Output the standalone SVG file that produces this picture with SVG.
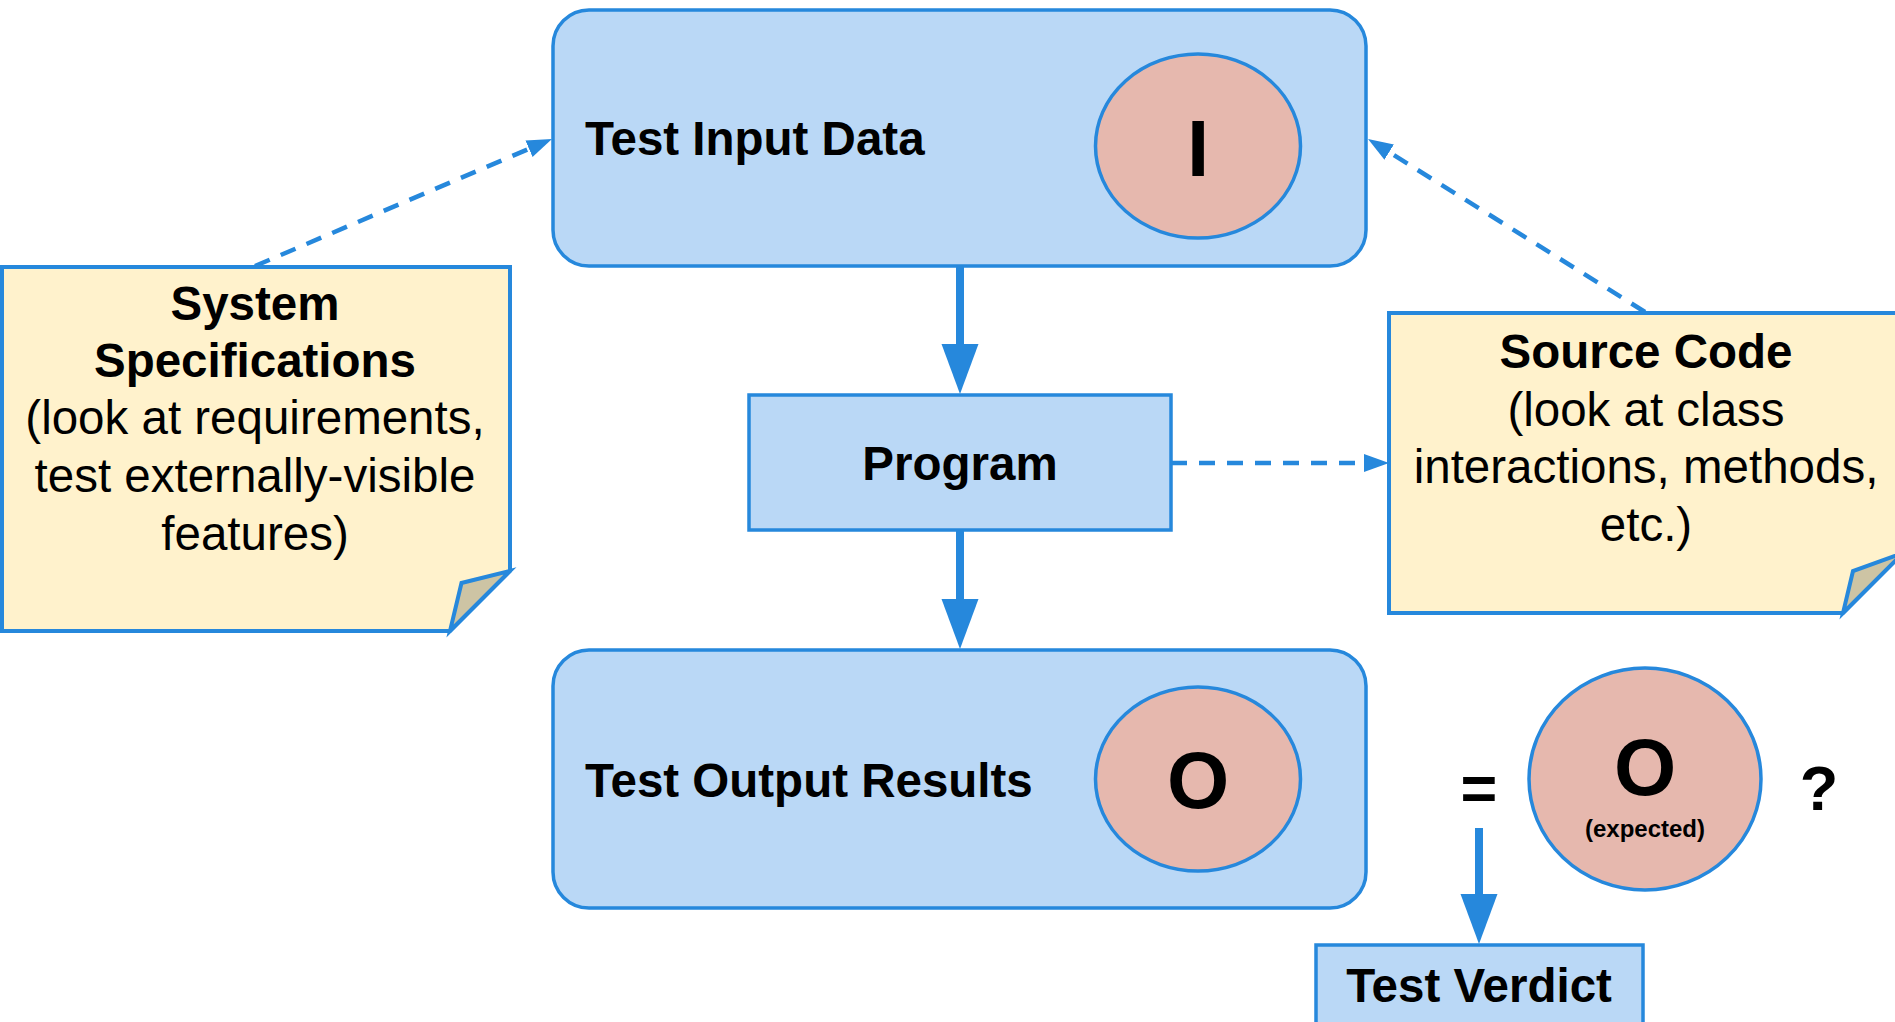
<svg xmlns="http://www.w3.org/2000/svg" width="1895" height="1022" viewBox="0 0 1895 1022">
  <style>
    .box { fill: #bad8f6; stroke: #2688dc; stroke-width: 3.5; }
    .note { fill: #fff2cc; stroke: #2688dc; stroke-width: 4; stroke-linejoin: miter; }
    .fold { fill: #cdc4a4; stroke: #2688dc; stroke-width: 4; stroke-linejoin: miter; }
    .data { fill: #e6b8ae; stroke: #2688dc; stroke-width: 3.5; }
    text { font-family: "Liberation Sans", Arial, sans-serif; fill: #000; }
    .b { font-weight: bold; }
    .t { font-size: 47.5px; }
    .c { text-anchor: middle; }
    .big { font-size: 80px; font-weight: bold; text-anchor: middle; }
    .solid { stroke: #2688dc; stroke-width: 8; fill: none; }
    .dash { stroke: #2688dc; stroke-width: 4.5; fill: none; stroke-dasharray: 16 12; }
  </style>
  <defs>
    <marker id="headSolid" markerUnits="userSpaceOnUse" markerWidth="50" markerHeight="38" refX="0" refY="18.5" orient="auto">
      <path d="M0,0 L50,18.5 L0,37 z" fill="#2688dc"/>
    </marker>
    <marker id="headDash" markerUnits="userSpaceOnUse" markerWidth="26" markerHeight="19" refX="0" refY="9" orient="auto">
      <path d="M0,0 L25,9 L0,18 z" fill="#2688dc"/>
    </marker>
  </defs>

  <!-- Test input data -->
  <g id="test-input">
    <rect class="box" x="553" y="10" width="813" height="256" rx="36" ry="36"/>
    <text class="b t" x="585" y="155">Test Input Data</text>
    <ellipse class="data" cx="1198" cy="146" rx="102.5" ry="92"/>
    <text class="big" x="1198" y="176">I</text>
  </g>

  <!-- Program under test -->
  <g id="program">
    <rect class="box" x="749" y="395" width="422" height="135"/>
    <text class="b t c" x="960" y="480">Program</text>
  </g>

  <!-- Test output results -->
  <g id="test-output">
    <rect class="box" x="553" y="650" width="813" height="258" rx="36" ry="36"/>
    <text class="b t" x="585" y="797">Test Output Results</text>
    <ellipse class="data" cx="1198" cy="779" rx="102.5" ry="92"/>
    <text class="big" x="1198" y="808">O</text>
  </g>

  <!-- System specifications note -->
  <g id="system-specs">
    <path class="note" d="M2,267 L510,267 L510,571 L450,631 L2,631 Z"/>
    <path class="fold" d="M510,571 L461.5,583 L450,631 Z"/>
    <text class="b t c" x="255" y="320">System</text>
    <text class="b t c" x="255" y="377">Specifications</text>
    <text class="t c" x="255" y="434">(look at requirements,</text>
    <text class="t c" x="255" y="492">test externally-visible</text>
    <text class="t c" x="255" y="550">features)</text>
  </g>

  <!-- Source code note -->
  <g id="source-code">
    <path class="note" d="M1389,313 L1903,313 L1903,553 L1843,613 L1389,613 Z"/>
    <path class="fold" d="M1903,553 L1853,571 L1843,613 Z"/>
    <text class="b t c" x="1646" y="368">Source Code</text>
    <text class="t c" x="1646" y="426">(look at class</text>
    <text class="t c" x="1646" y="483">interactions, methods,</text>
    <text class="t c" x="1646" y="541">etc.)</text>
  </g>

  <!-- Comparison with expected output -->
  <g id="equals">
    <text class="b c" x="1479" y="810" font-size="63">=</text>
  </g>
  <g id="expected-output">
    <ellipse class="data" cx="1645" cy="779" rx="116" ry="111"/>
    <text class="big" x="1645" y="795">O</text>
    <text class="b c" x="1645" y="837" font-size="24">(expected)</text>
  </g>
  <g id="question">
    <text class="b c" x="1819" y="810" font-size="63">?</text>
  </g>

  <!-- Test verdict -->
  <g id="test-verdict">
    <rect class="box" x="1316" y="945" width="327" height="90"/>
    <text class="b t c" x="1479" y="1002">Test Verdict</text>
  </g>

  <!-- Connectors -->
  <g id="connectors">
    <line class="solid" x1="960" y1="266" x2="960" y2="344" marker-end="url(#headSolid)"/>
    <line class="solid" x1="960" y1="530" x2="960" y2="599" marker-end="url(#headSolid)"/>
    <line class="solid" x1="1479" y1="828" x2="1479" y2="894" marker-end="url(#headSolid)"/>
    <line class="dash" x1="1171" y1="463" x2="1364" y2="463" marker-end="url(#headDash)"/>
    <line class="dash" x1="255" y1="266" x2="529" y2="148.8" marker-end="url(#headDash)"/>
    <line class="dash" x1="1645" y1="312" x2="1389.2" y2="152.2" marker-end="url(#headDash)"/>
  </g>
</svg>
